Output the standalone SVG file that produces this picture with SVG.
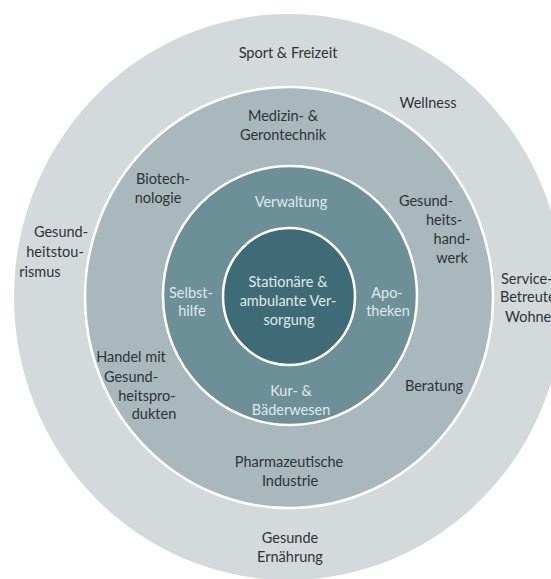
<svg xmlns="http://www.w3.org/2000/svg" width="551" height="579" viewBox="0 0 551 579">
  <style>
    text { font-family: Lato, "Open Sans", "Liberation Sans", sans-serif; font-size: 14.5px; text-anchor: middle; }
    .dark { fill: #2e3335; }
    .light { fill: #dfeaec; }
    .ring { stroke: #ffffff; stroke-width: 2.5; }
  </style>
  <rect width="551" height="579" fill="#ffffff"/>

  <!-- outermost ring: adjacent markets -->
  <g id="ring-outer">
    <ellipse cx="289" cy="297" rx="275" ry="283" fill="#d4dadc"/>
    <text class="dark" x="288" y="58">Sport &amp; Freizeit</text>
    <text class="dark" x="428" y="108">Wellness</text>
    <text class="dark" x="61" y="237">Gesund-</text>
    <text class="dark" x="55" y="257">heitstou-</text>
    <text class="dark" x="40" y="277">rismus</text>
    <text class="dark" x="501" y="284" style="text-anchor:start">Service-</text>
    <text class="dark" x="500" y="302" style="text-anchor:start">Betreutes</text>
    <text class="dark" x="505" y="322" style="text-anchor:start">Wohnen</text>
    <text class="dark" x="290" y="543">Gesunde</text>
    <text class="dark" x="290" y="562">Ernährung</text>
  </g>

  <!-- second ring: supply industries and trades -->
  <g id="ring-second">
    <ellipse class="ring" cx="289" cy="297.5" rx="204" ry="210.5" fill="#a8b8bd"/>
    <text class="dark" x="283" y="121">Medizin- &amp;</text>
    <text class="dark" x="283" y="140">Gerontechnik</text>
    <text class="dark" x="163" y="184">Biotech-</text>
    <text class="dark" x="158" y="203">nologie</text>
    <text class="dark" x="426" y="206">Gesund-</text>
    <text class="dark" x="444" y="225">heits-</text>
    <text class="dark" x="452" y="244">hand-</text>
    <text class="dark" x="452" y="263">werk</text>
    <text class="dark" x="131" y="362">Handel mit</text>
    <text class="dark" x="131" y="382">Gesund-</text>
    <text class="dark" x="147" y="401">heitspro-</text>
    <text class="dark" x="154" y="419">dukten</text>
    <text class="dark" x="434" y="391">Beratung</text>
    <text class="dark" x="289" y="467">Pharmazeutische</text>
    <text class="dark" x="290" y="486">Industrie</text>
  </g>

  <!-- third ring: services around core care -->
  <g id="ring-third">
    <ellipse class="ring" cx="290" cy="295.5" rx="127" ry="129.5" fill="#6d8f97"/>
    <text class="light" x="291" y="207">Verwaltung</text>
    <text class="light" x="191" y="298">Selbst-</text>
    <text class="light" x="192" y="316">hilfe</text>
    <text class="light" x="387" y="298">Apo-</text>
    <text class="light" x="388" y="316">theken</text>
    <text class="light" x="291" y="396">Kur- &amp;</text>
    <text class="light" x="291" y="415">Bäderwesen</text>
  </g>

  <!-- core: inpatient and outpatient care -->
  <g id="core">
    <ellipse class="ring" cx="289" cy="296.5" rx="66" ry="68.5" fill="#3f6b77"/>
    <text class="light" x="288" y="287">Stationäre &amp;</text>
    <text class="light" x="288" y="306">ambulante Ver-</text>
    <text class="light" x="289" y="325">sorgung</text>
  </g>
</svg>
